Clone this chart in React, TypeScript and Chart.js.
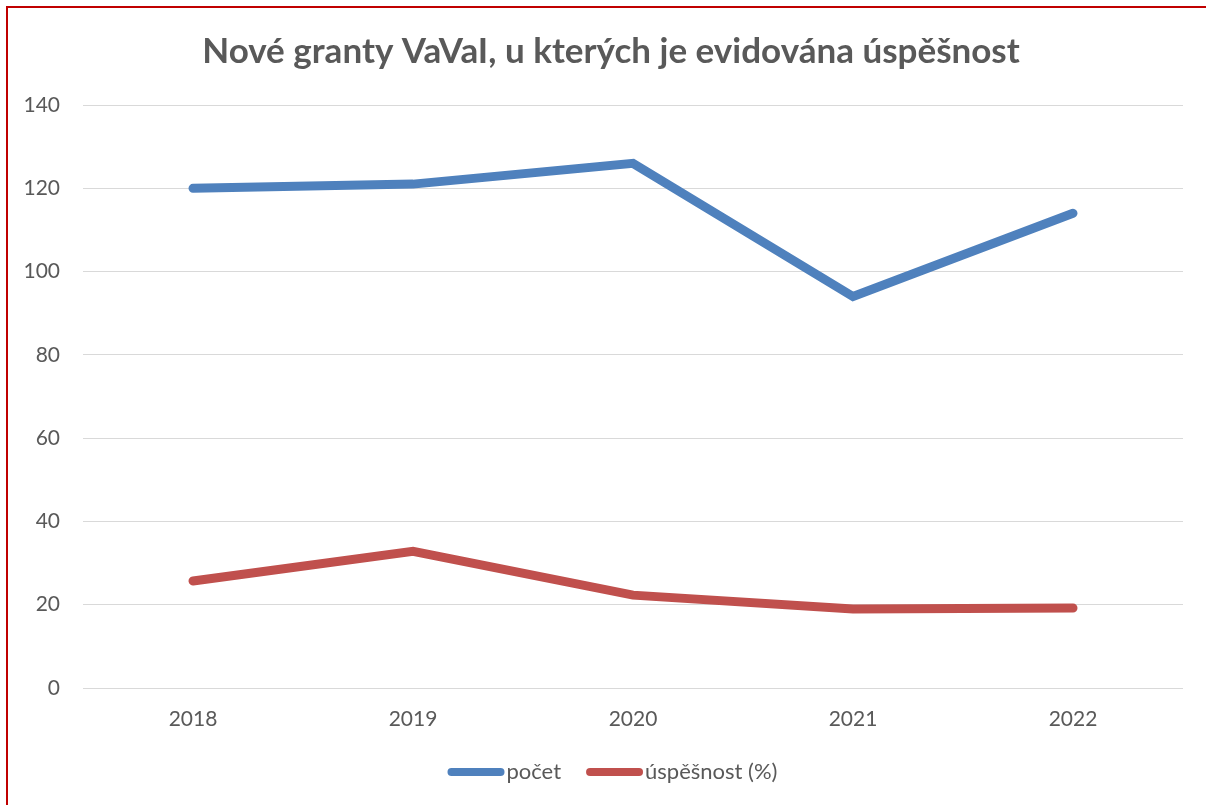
import React, { useEffect, useRef } from "react";
import { Chart, registerables } from "chart.js";

Chart.register(...registerables);

const titleText = "Nové granty VaVaI, u kterých je evidována úspěšnost";
const years = ["2018", "2019", "2020", "2021", "2022"];
const pocet = [120, 121, 126, 94, 114];
const uspesnost = [25.7, 32.8, 22.3, 19.0, 19.2];
const seriesLabels = ["počet", "úspěšnost (%)"];
const seriesColors = ["#4F81BD", "#C0504D"];
const yTicks = [0, 20, 40, 60, 80, 100, 120, 140];

const FONT = "Lato, 'Open Sans', 'Liberation Sans', sans-serif";
const TEXT = "#595959";

const titleShiftPlugin = {
  id: "titleShift",
  afterLayout(chart: any) {
    if (chart.titleBlock) chart.titleBlock.left = 39;
  },
};

const legendPlugin = {
  id: "lineLegend",
  afterDraw(chart: any) {
    const ctx = chart.ctx;
    const ds = chart.data.datasets;
    ctx.save();
    ctx.font = `22px ${FONT}`;
    ctx.textBaseline = "middle";
    const lineLen = 57;
    const gap = 2;
    const itemGap = 25;
    const widths = ds.map((d: any) => lineLen + gap + ctx.measureText(d.label).width);
    const total = widths.reduce((a: number, b: number) => a + b, 0) + itemGap * (ds.length - 1);
    let x = chart.width / 2 + 9.5 - total / 2;
    const y = 772;
    ds.forEach((d: any, i: number) => {
      ctx.strokeStyle = d.borderColor;
      ctx.lineWidth = 8;
      ctx.lineCap = "round";
      ctx.beginPath();
      ctx.moveTo(x + 4, y);
      ctx.lineTo(x + lineLen - 4, y);
      ctx.stroke();
      ctx.fillStyle = TEXT;
      ctx.textAlign = "left";
      ctx.fillText(d.label, x + lineLen + gap, y);
      x += widths[i] + itemGap;
    });
    ctx.restore();
  },
};

export default function App() {
  const ref = useRef<HTMLCanvasElement | null>(null);
  useEffect(() => {
    if (!ref.current) return;
    const chart = new Chart(ref.current, {
      type: "line",
      data: {
        labels: years,
        datasets: [
          {
            label: seriesLabels[0],
            data: pocet,
            borderColor: seriesColors[0],
            backgroundColor: seriesColors[0],
            borderWidth: 9,
            borderCapStyle: "round",
            borderJoinStyle: "miter",
            pointRadius: 0,
            pointHoverRadius: 0,
            tension: 0,
          },
          {
            label: seriesLabels[1],
            data: uspesnost,
            borderColor: seriesColors[1],
            backgroundColor: seriesColors[1],
            borderWidth: 9,
            borderCapStyle: "round",
            borderJoinStyle: "miter",
            pointRadius: 0,
            pointHoverRadius: 0,
            tension: 0,
          },
        ],
      },
      options: {
        animation: false,
        responsive: false,
        layout: { padding: { left: 0, right: 23, top: 0, bottom: 0 } },
        plugins: {
          legend: { display: false },
          tooltip: { enabled: false },
          title: {
            display: true,
            text: titleText,
            color: TEXT,
            font: { family: FONT, size: 35, weight: "bold" },
            padding: { top: 31, bottom: 32 },
          },
        },
        scales: {
          x: {
            offset: true,
            grid: { display: false, drawTicks: false },
            border: { display: false },
            ticks: { color: TEXT, font: { family: FONT, size: 21 }, padding: 19 },
            afterFit(scale: any) {
              scale.height = 805 - 688;
            },
          },
          y: {
            min: 0,
            max: 140,
            afterBuildTicks(scale: any) {
              scale.ticks = yTicks.map((v) => ({ value: v }));
            },
            grid: { color: "#D9D9D9", lineWidth: 1, drawTicks: false },
            border: { display: false },
            ticks: { color: TEXT, font: { family: FONT, size: 21 }, padding: 23 },
            afterFit(scale: any) {
              scale.width = 83;
            },
          },
        },
      },
      plugins: [titleShiftPlugin, legendPlugin],
    });
    return () => chart.destroy();
  }, []);
  return (
    <div style={{ position: "absolute", left: 0, top: 0, width: 1206, height: 805, background: "#fff", overflow: "hidden" }}>
      <canvas ref={ref} width={1206} height={805} style={{ position: "absolute", left: 0, top: 0 }} />
      <div
        style={{
          position: "absolute",
          left: 6,
          top: 6,
          width: 1300,
          height: 900,
          borderLeft: "2px solid #C00000",
          borderTop: "2px solid #C00000",
          pointerEvents: "none",
        }}
      />
    </div>
  );
}
